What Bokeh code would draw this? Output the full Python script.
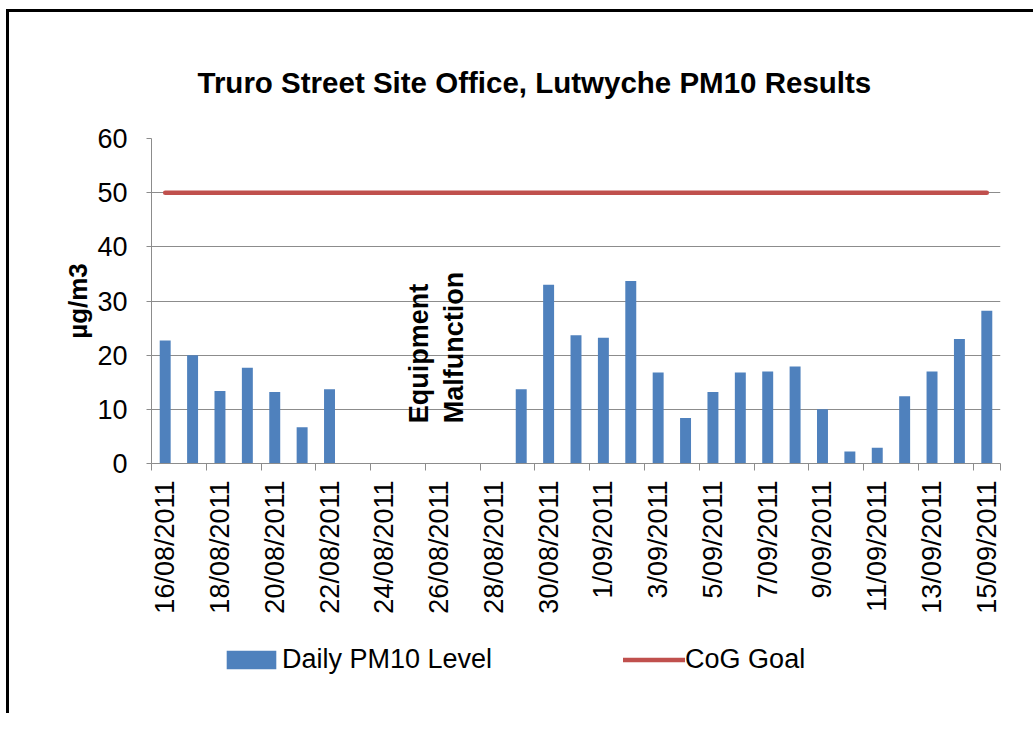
import math
import numpy as np
from bokeh.plotting import figure
from bokeh.layouts import column
from bokeh.models import (FixedTicker, Legend, LegendItem, Label, Range1d,
                          ColumnDataSource, Title)
from bokeh.embed import file_html
from bokeh.resources import INLINE

# ---- data -------------------------------------------------------------
dates = ["16/08/2011", "17/08/2011", "18/08/2011", "19/08/2011", "20/08/2011",
         "21/08/2011", "22/08/2011", "23/08/2011", "24/08/2011", "25/08/2011",
         "26/08/2011", "27/08/2011", "28/08/2011", "29/08/2011", "30/08/2011",
         "31/08/2011", "1/09/2011", "2/09/2011", "3/09/2011", "4/09/2011",
         "5/09/2011", "6/09/2011", "7/09/2011", "8/09/2011", "9/09/2011",
         "10/09/2011", "11/09/2011", "12/09/2011", "13/09/2011", "14/09/2011",
         "15/09/2011"]
daily_pm10 = [22.7, 20.0, 13.4, 17.7, 13.2, 6.7, 13.7,
              None, None, None, None, None, None,
              13.7, 33.0, 23.7, 23.2, 33.7, 16.8, 8.4, 13.2, 16.8, 17.0,
              17.9, 10.0, 2.2, 2.9, 12.4, 17.0, 23.0, 28.2]
cog_goal = 50
y_ticks = [0, 10, 20, 30, 40, 50, 60]
series_names = ["Daily PM10 Level", "CoG Goal"]

FONT = "Liberation Sans"
BLUE = "#4F81BD"
RED = "#C0504D"
GRID = "#8C8C8C"

idx = list(range(len(dates)))
vals = [np.nan if v is None else v for v in daily_pm10]
src = ColumnDataSource(dict(x=idx, top=vals, label=dates))

# ---- main chart ---------------------------------------------------------
p = figure(frame_width=846, frame_height=322,
           x_range=Range1d(-0.5, len(dates) - 0.5), y_range=Range1d(0, 60),
           output_backend="svg", toolbar_location=None,
           min_border_left=142, min_border_right=36,
           min_border_top=126, min_border_bottom=0)
p.styles = {"border-top": "3px solid black", "border-left": "3px solid black",
            "margin-left": "6px", "margin-top": "9px"}
p.outline_line_color = None
p.background_fill_color = "white"
p.border_fill_color = "white"

p.title = Title(text="Truro Street Site Office, Lutwyche PM10 Results",
                text_font=FONT, text_font_size="29.5px", text_font_style="bold",
                text_color="black", align="left", offset=46, standoff=80)

p.vbar(x="x", top="top", width=0.4, source=src, fill_color=BLUE, line_color=None)
p.line(x=[idx[0], idx[-1]], y=[cog_goal, cog_goal],
       line_color=RED, line_width=4.5, line_cap="round")

# y axis
ya = p.yaxis[0]
ya.ticker = FixedTicker(ticks=y_ticks)
ya.axis_line_color = GRID
ya.major_tick_line_color = GRID
ya.major_tick_out = 5
ya.major_tick_in = 0
ya.minor_tick_line_color = None
ya.major_label_text_font = FONT
ya.major_label_text_font_size = "27px"
ya.major_label_text_color = "black"
ya.major_label_standoff = 19
ya.axis_label = "µg/m3"
ya.axis_label_text_font = FONT
ya.axis_label_text_font_size = "26px"
ya.axis_label_text_font_style = "bold"
ya.axis_label_text_color = "black"
ya.axis_label_standoff = 1

# x axis
xa = p.xaxis[0]
label_pos = idx[::2]
xa.ticker = FixedTicker(ticks=label_pos,
                        minor_ticks=[i - 0.5 for i in idx[::2]] + [idx[-1] + 0.5])
xa.major_label_overrides = {i: dates[i] for i in label_pos}
xa.major_label_orientation = math.pi / 2
xa.axis_line_color = GRID
xa.major_tick_line_color = None
xa.major_tick_out = 0
xa.major_tick_in = 0
xa.minor_tick_line_color = GRID
xa.minor_tick_out = 7
xa.minor_tick_in = 0
xa.major_label_text_font = FONT
xa.major_label_text_font_size = "27px"
xa.major_label_text_color = "black"
xa.major_label_standoff = 10

p.xgrid.grid_line_color = None
p.ygrid.ticker = FixedTicker(ticks=y_ticks)
p.ygrid.grid_line_color = GRID
p.ygrid.grid_line_width = 1

# annotation
for txt, xx in (("Equipment", 9.25), ("Malfunction", 10.53)):
    p.add_layout(Label(x=xx, y=7.45, text=txt, angle=math.pi / 2,
                       text_align="left", text_baseline="middle",
                       text_font=FONT, text_font_size="27px",
                       text_font_style="bold", text_color="black"))

# ---- legend strip below the chart ---------------------------------------
# same series drawn again, but outside the visible ranges, only to feed the legend
p2 = figure(width=1024, height=100,
            x_range=Range1d(1000, 1001), y_range=Range1d(1000, 1001),
            output_backend="svg", toolbar_location=None,
            x_axis_location=None, y_axis_location=None,
            min_border=0, min_border_left=0, min_border_right=0,
            min_border_top=0, min_border_bottom=0)
p2.styles = {"border-left": "3px solid black", "margin-left": "6px"}
p2.outline_line_color = None
p2.grid.grid_line_color = None
p2.background_fill_color = "white"
p2.border_fill_color = "white"
leg_bar = p2.vbar(x="x", top="top", width=0.4, source=src,
                  fill_color=BLUE, line_color=None)
leg_line = p2.line(x=[idx[0], idx[-1]], y=[cog_goal, cog_goal],
                   line_color=RED, line_width=4.5, line_cap="round")

legend = Legend(items=[LegendItem(label=series_names[0], renderers=[leg_bar]),
                       LegendItem(label=series_names[1], renderers=[leg_line])],
                orientation="horizontal", location=(69, 38),
                border_line_color=None, background_fill_alpha=0,
                padding=0, margin=0, spacing=131,
                glyph_width=62, glyph_height=23, label_standoff=0,
                label_text_font=FONT, label_text_font_size="27px",
                label_text_color="black", label_height=17)
p2.add_layout(legend, "center")

layout = column(p, p2, spacing=0)
open("out.html", "w").write(file_html(layout, INLINE))
